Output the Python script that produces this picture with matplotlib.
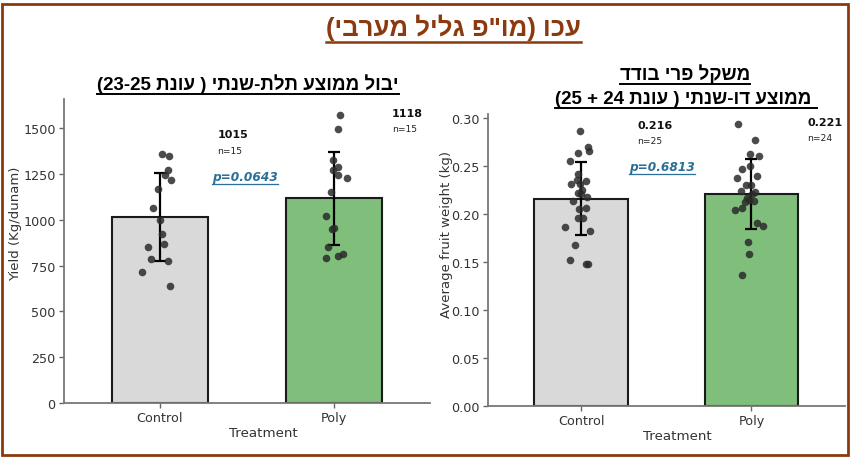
import re
import numpy as np
import matplotlib
matplotlib.use("Agg")
import matplotlib.pyplot as plt
from matplotlib import font_manager as fm
from matplotlib.ft2font import FT2Font
from matplotlib.lines import Line2D
from matplotlib.patches import Rectangle

# ---- data ----
groups = ["Control", "Poly"]
bar_colors = ["#d9d9d9", "#7fbf7b"]

yield_control = [1359, 1348, 1270, 1243, 1217, 1168, 1064, 1000, 925, 866, 851, 784, 775, 715, 640]
yield_poly = [1574, 1497, 1326, 1288, 1272, 1246, 1228, 1150, 1022, 951, 955, 853, 791, 804, 813]
yield_jitter_control = [0.01, 0.053, 0.047, 0.03, 0.066, -0.013, -0.041, 0.002, 0.011, 0.023,
                        -0.068, -0.053, 0.045, -0.10, 0.056]
yield_jitter_poly = [0.034, 0.024, -0.008, 0.024, -0.004, 0.024, 0.071, -0.019, -0.049, -0.015,
                     0.002, -0.034, -0.044, 0.024, 0.051]

weight_control = [0.2865, 0.2694, 0.2635, 0.2652, 0.2555, 0.2420, 0.2357, 0.2344, 0.2309, 0.2309,
                  0.2250, 0.2219, 0.2208, 0.2177, 0.2135, 0.2062, 0.1958, 0.1958, 0.1861, 0.1823,
                  0.1673, 0.1524, 0.1479, 0.1479, 0.2050]
weight_poly = [0.2933, 0.2771, 0.2621, 0.2604, 0.2503, 0.2469, 0.2392, 0.2371, 0.2302, 0.2306,
               0.2240, 0.2225, 0.2167, 0.2142, 0.2131, 0.2038, 0.2059, 0.1903, 0.1875, 0.1711,
               0.1579, 0.1365, 0.2210, 0.2123]
weight_jitter_control = [-0.010, 0.037, -0.022, 0.043, -0.069, -0.018, -0.026, 0.028, -0.063, -0.006,
                         0.004, -0.018, 0.0, 0.033, -0.049, 0.030, -0.022, 0.010, -0.093, 0.049,
                         -0.037, -0.065, 0.026, 0.039, -0.014]
weight_jitter_poly = [-0.077, 0.022, -0.008, 0.043, -0.010, -0.055, 0.035, -0.083, -0.030, -0.004,
                      -0.059, 0.020, -0.026, -0.012, 0.016, -0.096, -0.053, 0.035, 0.067, -0.022,
                      -0.014, -0.055, 0.004, -0.039]

p_values = ["0.0643", "0.6813"]

main_title = 'עכו (מו"פ גליל מערבי)'
left_title = "יבול ממוצע תלת-שנתי ( עונת 23-25)"
right_title_1 = "משקל פרי בודד"
right_title_2 = " ממוצע דו-שנתי ( עונת 24 + 25)"

BROWN = "#8B3A0F"
PBLUE = "#2a6f97"


def hebrew_family():
    # pick an Arial-like bold face that really has Hebrew glyphs
    for fam in ["Liberation Sans", "Arimo", "Open Sans", "DejaVu Sans"]:
        try:
            path = fm.findfont(fm.FontProperties(family=fam, weight="bold"), fallback_to_default=False)
            if 0x05E2 in FT2Font(path).get_charmap():
                return [fam, "DejaVu Sans"]
        except Exception:
            pass
    return ["DejaVu Sans"]


HEB_FONT = hebrew_family()


def visual(s):
    # matplotlib has no bidi support: flip the logical Hebrew string into display order
    r = s[::-1]
    r = re.sub(r"\d+(?:[-.]\d+)*", lambda m: m.group(0)[::-1], r)
    return r.translate(str.maketrans("()", ")("))


def underline(fig, txt, color, lw, gap=1.5):
    r = fig.canvas.get_renderer()
    bb = txt.get_window_extent(renderer=r)
    y = bb.y0 - gap
    inv = fig.transFigure.inverted()
    (x0, y0), (x1, _) = inv.transform([(bb.x0, y), (bb.x1, y)])
    fig.add_artist(Line2D([x0, x1], [y0, y0], transform=fig.transFigure, color=color, lw=lw))


def bar_panel(ax, values, jitters, ymax, fmt, ylabel, p, p_pos, xlab_pos, ylab_pos):
    means = [np.mean(v) for v in values]
    sds = [np.std(v, ddof=1) for v in values]
    x = np.arange(len(groups))
    ax.bar(x, means, width=0.55, color=bar_colors, edgecolor="#1a1a1a", linewidth=1.5, zorder=1)
    ax.errorbar(x, means, yerr=sds, fmt="none", ecolor="black", elinewidth=1.6,
                capsize=4, capthick=1.6, zorder=3)
    for i, (v, j) in enumerate(zip(values, jitters)):
        ax.scatter(i + np.array(j), v, s=30, color="#2b2b2b", alpha=0.85, linewidths=0, zorder=4)
        ytxt = means[i] + sds[i] + 0.127 * ymax
        ax.text(i + 0.33, ytxt, fmt.format(means[i]), fontsize=8, fontweight="bold",
                ha="left", va="center", color="#111111")
        ax.annotate(f"n={len(v)}", (i + 0.33, ytxt), xytext=(0, -11.5), textcoords="offset points",
                    fontsize=6.6, ha="left", va="center", color="#222222")
    ptxt = ax.text(p_pos[0], p_pos[1], f"p={p}", transform=ax.transAxes, fontsize=8.7,
                   fontstyle="italic", fontweight="bold", color=PBLUE, ha="center", va="center")
    ax.set_xlim(-0.55, 1.55)
    ax.set_ylim(0, ymax)
    ax.set_xticks(x)
    ax.set_xticklabels(groups)
    ax.set_xlabel("Treatment", fontsize=9.6, color="#333333")
    ax.set_ylabel(ylabel, fontsize=9.5, color="#333333")
    ax.xaxis.set_label_coords(*xlab_pos)
    ax.yaxis.set_label_coords(*ylab_pos)
    ax.tick_params(labelsize=9.2, colors="#333333", length=3.5, width=1, pad=2.5)
    ax.tick_params(axis="both", color="#666666")
    for s in ["top", "right"]:
        ax.spines[s].set_visible(False)
    for s in ["left", "bottom"]:
        ax.spines[s].set_color("#777777")
        ax.spines[s].set_linewidth(1.3)
    return ptxt


fig = plt.figure(figsize=(8.52, 4.6), dpi=100)
fig.patch.set_facecolor("white")

ax1 = fig.add_axes([0.0751, 0.1217, 0.4296, 0.6609])
ax2 = fig.add_axes([0.5724, 0.1154, 0.4194, 0.6354])

p1 = bar_panel(ax1, [yield_control, yield_poly], [yield_jitter_control, yield_jitter_poly],
               1660, "{:.0f}", "Yield (Kg/dunam)", p_values[0], (0.495, 0.744),
               (0.544, -0.076), (-0.115, 0.592))
ax1.set_yticks(np.arange(0, 1501, 250))

p2 = bar_panel(ax2, [weight_control, weight_poly], [weight_jitter_control, weight_jitter_poly],
               0.3045, "{:.3f}", "Average fruit weight (kg)", p_values[1], (0.489, 0.818),
               (0.53, -0.078), (-0.097, 0.589))
ax2.set_yticks(np.arange(0, 0.301, 0.05))
ax2.yaxis.set_major_formatter(matplotlib.ticker.FormatStrFormatter("%.2f"))

t0 = fig.text(0.532, 1 - 28 / 460, visual(main_title), ha="center", va="center", fontsize=18.5,
              fontweight="bold", color=BROWN, family=HEB_FONT)
t1 = fig.text(0.291, 1 - 84 / 460, visual(left_title), ha="center", va="center", fontsize=13.5,
              fontweight="bold", color="black", family=HEB_FONT)
t2 = fig.text(0.804, 1 - 74 / 460, visual(right_title_1), ha="center", va="center", fontsize=13.5,
              fontweight="bold", color="black", family=HEB_FONT)
t3 = fig.text(0.805, 1 - 99 / 460, visual(right_title_2), ha="center", va="center", fontsize=13.5,
              fontweight="bold", color="black", family=HEB_FONT)

fig.add_artist(Rectangle((0.0018, 0.0087), 0.9935, 0.9815, transform=fig.transFigure,
                         fill=False, edgecolor=BROWN, linewidth=2))

fig.canvas.draw()
underline(fig, t0, BROWN, 1.8)
for t in [t1, t2, t3]:
    underline(fig, t, "black", 1.4)
underline(fig, p1, PBLUE, 0.9, gap=0.5)
underline(fig, p2, PBLUE, 0.9, gap=0.5)

fig.savefig("out.png", dpi=100)
